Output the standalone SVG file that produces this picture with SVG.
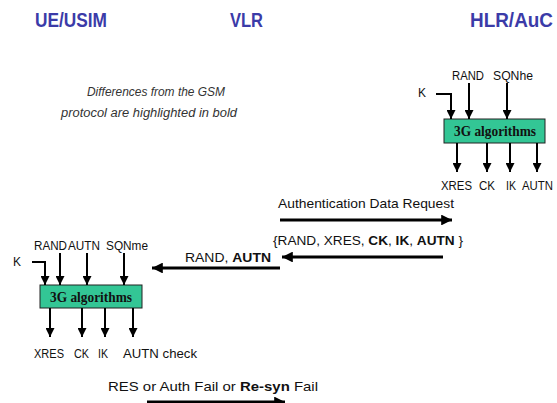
<svg xmlns="http://www.w3.org/2000/svg" width="557" height="403" viewBox="0 0 557 403">
<defs>
<marker id="ah" viewBox="0 0 10 10" refX="10" refY="5" markerWidth="4.5" markerHeight="4.5" orient="auto" markerUnits="strokeWidth"><path d="M0,0 L10,5 L0,10 z" fill="#000"/></marker>
<marker id="ahm" viewBox="0 0 10 10" refX="10" refY="5" markerWidth="5" markerHeight="3.6" orient="auto" markerUnits="strokeWidth"><path d="M0,0 L10,5 L0,10 z" fill="#000"/></marker>
</defs>
<style>
.title{font-family:"Liberation Sans",Arial,sans-serif;font-weight:bold;font-size:20px;fill:#3b3ba8}
.lbl{font-family:"Liberation Sans",Arial,sans-serif;font-size:12px;fill:#111}
.msg{font-family:"Liberation Sans",Arial,sans-serif;font-size:13px;fill:#111}
.note{font-family:"Liberation Sans",Arial,sans-serif;font-size:12.5px;font-style:italic;fill:#333}
.box{fill:#33c695;stroke:#222;stroke-width:1}
.boxt{font-family:"Liberation Serif","Times New Roman",serif;font-weight:bold;font-size:14px;fill:#111}
.in{stroke:#000;stroke-width:2;fill:none;marker-end:url(#ah)}
.m{stroke:#000;stroke-width:3;fill:none;marker-end:url(#ahm)}
</style>
<rect width="557" height="403" fill="#fff"/>
<g id="titles">
<text class="title" x="35" y="27" textLength="72" lengthAdjust="spacingAndGlyphs">UE/USIM</text>
<text class="title" x="230" y="27" textLength="33" lengthAdjust="spacingAndGlyphs">VLR</text>
<text class="title" x="470" y="27" textLength="83" lengthAdjust="spacingAndGlyphs">HLR/AuC</text>
</g>
<g id="note">
<text class="note" x="87" y="96" textLength="138" lengthAdjust="spacingAndGlyphs">Differences from the GSM</text>
<text class="note" x="61" y="117" textLength="176" lengthAdjust="spacingAndGlyphs">protocol are highlighted in bold</text>
</g>
<g id="hlr-alg">
<rect class="box" x="444" y="119" width="101" height="24"/>
<text class="boxt" x="454" y="136" textLength="82" lengthAdjust="spacingAndGlyphs">3G algorithms</text>
<text class="lbl" x="452" y="80" textLength="32" lengthAdjust="spacingAndGlyphs">RAND</text>
<text class="lbl" x="493" y="80" textLength="40" lengthAdjust="spacingAndGlyphs">SQNhe</text>
<text class="lbl" x="418" y="97">K</text>
<text class="lbl" x="441" y="190" textLength="31" lengthAdjust="spacingAndGlyphs">XRES</text>
<text class="lbl" x="479" y="190" textLength="16" lengthAdjust="spacingAndGlyphs">CK</text>
<text class="lbl" x="506" y="190" textLength="10" lengthAdjust="spacingAndGlyphs">IK</text>
<text class="lbl" x="522" y="190" textLength="31" lengthAdjust="spacingAndGlyphs">AUTN</text>
</g>
<g id="ue-alg">
<rect class="box" x="40" y="285" width="102" height="23"/>
<text class="boxt" x="50" y="301.5" textLength="82" lengthAdjust="spacingAndGlyphs">3G algorithms</text>
<text class="lbl" x="34" y="250" textLength="33" lengthAdjust="spacingAndGlyphs">RAND</text>
<text class="lbl" x="68" y="250" textLength="32" lengthAdjust="spacingAndGlyphs">AUTN</text>
<text class="lbl" x="106" y="250" textLength="42" lengthAdjust="spacingAndGlyphs">SQNme</text>
<text class="lbl" x="13" y="266">K</text>
<text class="lbl" x="34" y="358" textLength="30" lengthAdjust="spacingAndGlyphs">XRES</text>
<text class="lbl" x="74" y="358" textLength="15" lengthAdjust="spacingAndGlyphs">CK</text>
<text class="lbl" x="98" y="358" textLength="10" lengthAdjust="spacingAndGlyphs">IK</text>
<text class="lbl" x="123" y="358" textLength="74" lengthAdjust="spacingAndGlyphs">AUTN check</text>
</g>
<g id="messages">
<text class="msg" x="278" y="208" textLength="176" lengthAdjust="spacingAndGlyphs">Authentication Data Request</text>
<text class="msg" x="273" y="245" textLength="190" lengthAdjust="spacingAndGlyphs">{RAND, XRES, <tspan font-weight="bold">CK</tspan>, <tspan font-weight="bold">IK</tspan>, <tspan font-weight="bold">AUTN</tspan> }</text>
<text class="msg" x="185" y="262" textLength="86" lengthAdjust="spacingAndGlyphs">RAND, <tspan font-weight="bold">AUTN</tspan></text>
<text class="msg" x="108" y="391" textLength="210" lengthAdjust="spacingAndGlyphs">RES or Auth Fail or <tspan font-weight="bold">Re-syn</tspan> Fail</text>
</g>
<g id="connectors">
<path class="in" d="M436,94 H451 V119"/>
<path class="in" d="M469,83 V119"/>
<path class="in" d="M507,83 V119"/>
<path class="in" d="M457,143 V172"/>
<path class="in" d="M487,143 V172"/>
<path class="in" d="M510,143 V172"/>
<path class="in" d="M537,143 V172"/>
<path class="in" d="M32,262 H45 V285"/>
<path class="in" d="M60,253 V285"/>
<path class="in" d="M87,253 V285"/>
<path class="in" d="M124,253 V285"/>
<path class="in" d="M50,308 V337"/>
<path class="in" d="M82,308 V337"/>
<path class="in" d="M105,308 V337"/>
<path class="in" d="M133,308 V337"/>
<path class="m" d="M280,220 H452"/>
<path class="m" d="M443,257 H282"/>
<path class="m" d="M280,268 H152"/>
<path class="m" d="M147,402 H285"/>
</g>
</svg>
